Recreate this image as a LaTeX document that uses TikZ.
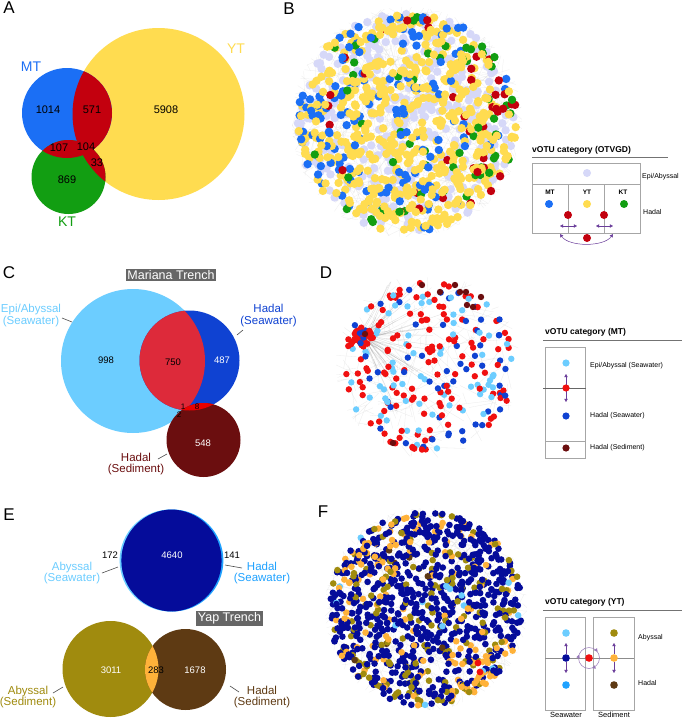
\documentclass[tikz,border=0pt]{standalone}
\usepackage{fontspec}
\setmainfont{Liberation Sans}
\usetikzlibrary{arrows.meta,decorations.markings}
\definecolor{ytc}{HTML}{FFDC50}
\definecolor{mtc}{HTML}{1B6FF5}
\definecolor{ktc}{HTML}{129E12}
\definecolor{vred}{HTML}{C3000E}
\definecolor{lavc}{HTML}{D6D8F8}
\definecolor{caby}{HTML}{6CCDFF}
\definecolor{chad}{HTML}{0F42D2}
\definecolor{cred}{HTML}{DD2A3A}
\definecolor{csed}{HTML}{6B0E0F}
\definecolor{clens}{HTML}{E80000}
\definecolor{mred}{HTML}{F01010}
\definecolor{edkb}{HTML}{050C9A}
\definecolor{emid}{HTML}{1FA2FF}
\definecolor{eolv}{HTML}{A08B0E}
\definecolor{ebrn}{HTML}{5E3A13}
\definecolor{eorg}{HTML}{FFB23A}
\definecolor{purp}{HTML}{6A3D9A}
\definecolor{boxg}{HTML}{666666}
% network colour sets
\colorlet{bc1}{mtc}\colorlet{bc2}{ktc}\colorlet{bc3}{vred}\colorlet{bc4}{ytc}
\colorlet{dc1}{mred}\colorlet{dc2}{chad}\colorlet{dc3}{caby}
\colorlet{fc1}{eorg}\colorlet{fc2}{eolv}\colorlet{fc3}{caby}\colorlet{fc4}{ebrn}\colorlet{fc5}{edkb}
\tikzset{
  fs/.style={font=\fontsize{#1}{#1}\selectfont},
  panel/.style={fs=17, inner sep=0},
  vnum/.style={fs=11, inner sep=0},
  cnum/.style={fs=9.5, inner sep=0},
  snum/.style={fs=8, inner sep=0},
  vlab/.style={fs=14, inner sep=0},
  clab/.style={fs=11.5, inner sep=0, align=center},
  trench/.style={fill=boxg, text=white, fs=12.5, inner sep=1.8pt},
  leader/.style={draw=black!70, line width=0.6pt},
  legtitle/.style={font=\bfseries\fontsize{8.5}{8.5}\selectfont, inner sep=0, anchor=west},
  legtxt/.style={fs=7, inner sep=0, anchor=west},
  legbold/.style={font=\bfseries\fontsize{6.5}{6.5}\selectfont, inner sep=0},
  legline/.style={draw=black!55, line width=0.8pt},
  legbox/.style={draw=black!35, line width=0.6pt},
  pa/.style={draw=purp, line width=0.5pt, {Triangle[length=3.2pt,width=3.4pt]}-{Triangle[length=3.2pt,width=3.4pt]}},
  pone/.style={draw=purp, line width=0.5pt, -{Triangle[length=3.2pt,width=3.4pt]}},
  edgeB/.style={draw=black!40, opacity=0.18, line width=0.25pt},
  edgeD/.style={draw=black!45, opacity=0.17, line width=0.3pt},
}
\begin{document}
\begin{tikzpicture}[x=1pt,y=-1pt]
\useasboundingbox (0,0) rectangle (685,720);
\fill[white] (0,0) rectangle (685,720);

% ================= Panel A =================
\node[panel] (pA) at (9,8) {A};
\fill[ytc] (158.5,114) circle (86);
\fill[mtc] (67,113) circle (45);
\fill[ktc] (68.5,177) circle (37);
\begin{scope}\clip (158.5,114) circle (86); \fill[vred] (67,113) circle (45); \fill[vred] (68.5,177) circle (37); \end{scope}
\begin{scope}\clip (67,113) circle (45); \fill[vred] (68.5,177) circle (37); \end{scope}
\node[vlab, text=mtc] (lMT) at (31,67) {MT};
\node[vlab, text=ytc] (lYT) at (236,49) {YT};
\node[vlab, text=ktc] (lKT) at (67,222) {KT};
\node[vnum] (a1) at (48,110) {1014};
\node[vnum] (a2) at (92,110) {571};
\node[vnum] (a3) at (166,110) {5908};
\node[vnum] (a4) at (59,148) {107};
\node[vnum] (a5) at (86,147) {104};
\node[vnum] (a6) at (97,163) {33};
\node[vnum] (a7) at (67,180) {869};

% ================= Panel B network =================
\node[panel] (pB) at (289,9) {B};
\begin{scope}
\clip (407,122) circle (115);
\pgfmathsetseed{11}
\foreach \i in {1,...,600}{
  \pgfmathsetmacro\rr{110*sqrt(rnd)}
  \pgfmathsetmacro\aa{360*rnd}
  \pgfmathsetmacro\bb{360*rnd}
  \pgfmathsetmacro\ll{10+55*rnd}
  \draw[edgeB] ({407+\rr*cos(\aa)},{122+\rr*sin(\aa)}) -- ++({\ll*cos(\bb)},{\ll*sin(\bb)});
}
\end{scope}
\pgfmathsetseed{23}
\foreach \i in {1,...,360}{
  \pgfmathsetmacro\rr{110*sqrt(rnd)}
  \pgfmathsetmacro\aa{360*rnd}
  \fill[lavc] ({407+\rr*cos(\aa)},{122+\rr*sin(\aa)}) circle (4.2);
}
\foreach \i in {1,...,720}{
  \pgfmathsetmacro\rr{110*sqrt(rnd)}
  \pgfmathsetmacro\aa{360*rnd}
  \pgfmathsetmacro\xr{\rr*cos(\aa)}
  \pgfmathsetmacro\yr{\rr*sin(\aa)}
  \pgfmathsetmacro\cc{rnd}
  \pgfmathsetmacro\pb{0.17+0.22*(\xr<-55)-0.09*(\xr>40)}
  \pgfmathsetmacro\pg{\pb+0.05+0.13*(\xr>55)+0.15*(\yr<-65)*(\xr>5)}
  \pgfmathsetmacro\pr{\pg+0.04+0.09*(\xr>60)+0.08*(\yr<-65)*(\xr>5)}
  \pgfmathtruncatemacro\ci{(\cc<\pb)?1:((\cc<\pg)?2:((\cc<\pr)?3:4))}
  \fill[bc\ci] ({407+\xr},{122+\yr}) circle (4.2);
}

% legend B
\node[legtitle] (tB) at (532,150) {vOTU category (OTVGD)};
\draw[legline] (532,157) -- (668,157);
\draw[legbox] (532,163) rectangle (640,233);
\draw[legbox] (532,184) -- (640,184) (568,184) -- (568,233) (604,184) -- (604,233);
\fill[lavc] (587,173) circle (4);
\node[legtxt] (bEpi) at (642,177) {Epi/Abyssal};
\node[legbold] (bMT) at (550,192) {MT};
\node[legbold] (bYT) at (587,192) {YT};
\node[legbold] (bKT) at (623,192) {KT};
\fill[mtc] (549,204) circle (4);
\fill[ytc] (587,204) circle (4);
\fill[ktc] (624,204) circle (4);
\node[legtxt] (bHad) at (643,212) {Hadal};
\draw[pa] (560,226) -- (577,226);
\draw[pa] (596,226) -- (613,226);
\draw[pa] (560,234) .. controls (569,247) and (604,247) .. (613,234);
\fill[vred] (568,215) circle (4);
\fill[vred] (604,215) circle (4);
\fill[vred] (587,238) circle (4);

% ================= Panel C =================
\node[panel] (pC) at (9,273) {C};
\node[trench] (mar) at (171,275) {Mariana Trench};
\fill[caby] (133,361) circle (72);
\fill[chad] (189.5,360.5) circle (50);
\begin{scope}\clip (133,361) circle (72); \fill[cred] (189.5,360.5) circle (50); \end{scope}
\fill[csed] (203.5,440) circle (37);
\begin{scope}\clip (189.5,360.5) circle (50); \fill[clens] (203.5,440) circle (37); \end{scope}
\node[cnum] (c1) at (106,360) {998};
\node[cnum] (c2) at (173,362) {750};
\node[cnum, text=white] (c3) at (222,360) {487};
\node[cnum, text=white] (c4) at (203,443) {548};
\node[snum] (c5) at (183,407) {1};
\node[snum] (c6) at (197,407) {8};
\node[snum] (c7) at (179,415) {2};
\node[clab, text=caby] (cEpi) at (31,315.5) {Epi/Abyssal\\(Seawater)};
\node[clab, text=chad] (cHad) at (268.5,315.5) {Hadal\\(Seawater)};
\node[clab, text=csed] (cSed) at (136,464) {Hadal\\(Sediment)};
\draw[leader] (62,318) -- (72,322);
\draw[leader] (237,335) -- (243,330);
\draw[leader] (158,459) -- (167,454);

% ================= Panel D network =================
\node[panel] (pD) at (326,273) {D};
\begin{scope}
\clip (428,366) circle (92);
\pgfmathsetseed{5}
\foreach \i in {1,...,200}{
  \pgfmathsetmacro\rr{86*sqrt(rnd)}
  \pgfmathsetmacro\aa{360*rnd}
  \pgfmathsetmacro\bb{360*rnd}
  \pgfmathsetmacro\ll{8+35*rnd}
  \draw[edgeD] ({428+\rr*cos(\aa)},{366+\rr*sin(\aa)}) -- ++({\ll*cos(\bb)},{\ll*sin(\bb)});
}
\foreach \i in {1,...,60}{
  \pgfmathsetmacro\bb{-70+140*rnd}
  \pgfmathsetmacro\ll{15+75*rnd}
  \draw[edgeD, opacity=0.3] ({363+8*rnd-4},{337+8*rnd-4}) -- ++({\ll*cos(\bb)},{\ll*sin(\bb)});
}
\end{scope}
\pgfmathsetseed{17}
\foreach \i in {1,...,250}{
  \pgfmathsetmacro\rr{86*sqrt(rnd)}
  \pgfmathsetmacro\aa{360*rnd}
  \pgfmathsetmacro\cc{rnd}
  \pgfmathtruncatemacro\ci{(\cc<0.52)?1:((\cc<0.76)?2:3)}
  \fill[dc\ci] ({428+\rr*cos(\aa)},{366+\rr*sin(\aa)}) circle (3.2);
}
\foreach \i in {1,...,35}{
  \pgfmathsetmacro\rr{10*sqrt(rnd)}
  \pgfmathsetmacro\aa{360*rnd}
  \pgfmathsetmacro\cc{rnd}
  \pgfmathtruncatemacro\ci{(\cc<0.8)?1:2}
  \fill[dc\ci] ({363+\rr*cos(\aa)},{337+\rr*sin(\aa)}) circle (3.2);
}
\foreach \p in {(422,285),(440,292),(455,285),(460,292),(466,292),(481,297),(467,305),(473,307),(393,443),(365,334)}
  \fill[csed] \p circle (3.2);

% legend D
\node[legtitle] (tD) at (545,332) {vOTU category (MT)};
\draw[legline] (543,340) -- (682,340);
\draw[legbox] (545,347) rectangle (585,458);
\draw[draw=black!60, line width=0.6pt] (543,388) -- (586,388);
\draw[legbox] (545,441) -- (585,441);
\draw[pone] (566,385) -- (566,374);
\draw[pone] (566,391) -- (566,402);
\fill[caby] (566,363) circle (3.6);
\fill[mred] (566,388) circle (3.6);
\fill[chad] (566,416) circle (3.6);
\fill[csed] (566,448) circle (3.6);
\node[legtxt] (dEpi) at (590,366) {Epi/Abyssal (Seawater)};
\node[legtxt] (dHad) at (590,416) {Hadal (Seawater)};
\node[legtxt] (dSed) at (590,448) {Hadal (Sediment)};

% ================= Panel E =================
\node[panel] (pE) at (9,515) {E};
\fill[caby] (170.6,560.5) circle (51);
\fill[emid] (172.4,560.5) circle (51);
\begin{scope}\clip (170.6,560.5) circle (51); \fill[edkb] (172.4,560.5) circle (51); \end{scope}
\node[trench] (yap) at (229.5,618.5) {Yap Trench};
\fill[eolv] (110.5,669) circle (48);
\fill[ebrn] (185.5,669.5) circle (40.5);
\begin{scope}\clip (110.5,669) circle (48); \fill[eorg] (185.5,669.5) circle (40.5); \end{scope}
\node[cnum] (e1) at (110,555) {172};
\node[cnum, text=white] (e2) at (172,555) {4640};
\node[cnum] (e3) at (232,555) {141};
\node[cnum, text=white] (e4) at (111,670) {3011};
\node[cnum] (e5) at (156,670) {283};
\node[cnum, text=white] (e6) at (195,670) {1678};
\node[clab, text=caby] (eAbS) at (72,573) {Abyssal\\(Seawater)};
\node[clab, text=emid] (eHaS) at (262,573) {Hadal\\(Seawater)};
\node[clab, text=eolv] (eAbD) at (28,697) {Abyssal\\(Sediment)};
\node[clab, text=ebrn] (eHaD) at (262,697) {Hadal\\(Sediment)};
\draw[leader] (102,573) -- (118,567);
\draw[leader] (225,565) -- (242,568);
\draw[leader] (53,693) -- (63,687);
\draw[leader] (230,686) -- (239,692);

% ================= Panel F network =================
\node[panel] (pF) at (323,512) {F};
\begin{scope}
\clip (426,609) circle (101);
\pgfmathsetseed{31}
\foreach \i in {1,...,450}{
  \pgfmathsetmacro\rr{97*sqrt(rnd)}
  \pgfmathsetmacro\aa{360*rnd}
  \pgfmathsetmacro\bb{360*rnd}
  \pgfmathsetmacro\ll{8+45*rnd}
  \draw[edgeB] ({426+\rr*cos(\aa)},{609+\rr*sin(\aa)}) -- ++({\ll*cos(\bb)},{\ll*sin(\bb)});
}
\end{scope}
\pgfmathsetseed{41}
\foreach \i in {1,...,980}{
  \pgfmathsetmacro\rr{97*sqrt(rnd)}
  \pgfmathsetmacro\aa{360*rnd}
  \pgfmathsetmacro\xr{\rr*cos(\aa)}
  \pgfmathsetmacro\yr{\rr*sin(\aa)}
  \pgfmathsetmacro\cc{rnd}
  \pgfmathsetmacro\po{0.1+0.3*(\xr>25)*(\yr>35)+0.2*(\xr<-25)*(\yr<-25)}
  \pgfmathsetmacro\pl{\po+0.13+0.12*(\yr>50)}
  \pgfmathtruncatemacro\ci{(\cc<\po)?1:((\cc<\pl)?2:((\cc<\pl+0.015)?3:((\cc<\pl+0.022)?4:5)))}
  \fill[fc\ci] ({426+\xr},{609+\yr}) circle (3.3);
}
\fill[mred] (478,663) circle (3.4);
\fill[mred] (480,672) circle (3.4);

% legend F
\node[legtitle] (tF) at (545,602) {vOTU category (YT)};
\draw[legline] (543,610) -- (682,610);
\draw[legbox] (545,617) rectangle (585,710);
\draw[legbox] (593,617) rectangle (634,710);
\draw[draw=black!45, line width=0.7pt] (545,658) -- (634,658);
\draw[pone] (566,654) -- (566,643);
\draw[pone] (566,662) -- (566,673);
\draw[pone] (614,654) -- (614,643);
\draw[pone] (614,662) -- (614,673);
\draw[draw=purp!70, line width=0.5pt, postaction={decorate},
  decoration={markings,
    mark=at position 0.2 with {\arrow{Triangle[length=3.2pt,width=3.4pt]}},
    mark=at position 0.55 with {\arrow{Triangle[length=3.2pt,width=3.4pt]}},
    mark=at position 0.9 with {\arrow{Triangle[length=3.2pt,width=3.4pt]}}}]
  (589,658) circle (10.5);
\fill[caby] (566,633) circle (3.8);
\fill[edkb] (566,658) circle (3.8);
\fill[emid] (566,685) circle (3.8);
\fill[eolv] (614,633) circle (3.8);
\fill[eorg] (614,658) circle (3.8);
\fill[ebrn] (614,685) circle (3.8);
\fill[mred] (589,658) circle (3.8);
\node[legtxt] (fAb) at (638,638) {Abyssal};
\node[legtxt] (fHa) at (638,683) {Hadal};
\node[fs=7.5, inner sep=0] (fSw) at (566,715) {Seawater};
\node[fs=7.5, inner sep=0] (fSd) at (614,715) {Sediment};
\end{tikzpicture}
\end{document}
